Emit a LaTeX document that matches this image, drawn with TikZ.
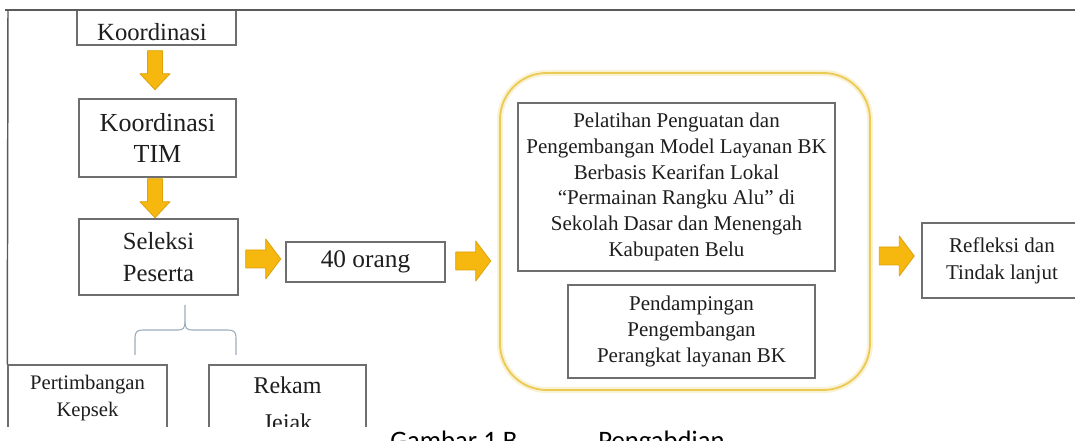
\documentclass[tikz,border=0pt]{standalone}
\usepackage{fontspec}
\setmainfont{Liberation Serif}
\newfontfamily\capfont{Carlito}
\usetikzlibrary{calc}
\definecolor{boxgray}{HTML}{6E6E6E}
\definecolor{framegray}{HTML}{5A5A5A}
\definecolor{arrowfill}{HTML}{F6B70F}
\definecolor{arrowedge}{HTML}{DDA20A}
\definecolor{goldline}{HTML}{EBCB55}
\definecolor{bracecol}{HTML}{9AADBF}
\definecolor{txt}{HTML}{1E1E1E}
\tikzset{
  box/.style={draw=boxgray, line width=1.1pt, inner sep=0pt, align=center, text=txt, fill=white},
  barrow/.style={fill=arrowfill, draw=arrowedge, line width=0.6pt, line join=round},
  pics/downarrow/.style={code={\draw[barrow] (-7.5,0) -- (7.5,0) -- (7.5,23) -- (15,23) -- (0,39) -- (-15,23) -- (-7.5,23) -- cycle;}},
  pics/rightarrow/.style={code={\draw[barrow] (0,-9) -- (20,-9) -- (20,-20) -- (35,0) -- (20,20) -- (20,9) -- (0,9) -- cycle;}},
}
\begin{document}
\begin{tikzpicture}[x=0.75pt,y=-0.75pt]
\useasboundingbox (0,0) rectangle (1075,441);
\fill[white] (0,0) rectangle (1075,441);
\clip (0,0) rectangle (1075,441);
\begin{scope}
\clip (0,0) rectangle (1075,427);
% group container
\node[draw=goldline, line width=1.4pt, rounded corners=35pt, minimum width=370*0.75pt, minimum height=317*0.75pt, inner sep=0pt,
      preaction={draw=goldline!25, line width=4.5pt}] (grp) at (685,231.5) {};
% boxes
\node[box, minimum width=159*0.75pt, minimum height=35*0.75pt] (k0) at (156.5,27.5) {};
\node[anchor=base, text=txt, font=\fontsize{18.5}{22}\selectfont] (k0t) at (152,41) {Koordinasi};
\node[box, minimum width=157*0.75pt, minimum height=78*0.75pt, font=\fontsize{19.5}{23.25}\selectfont] (k1) at (157.5,138) {Koordinasi\\TIM};
\node[box, minimum width=159*0.75pt, minimum height=76*0.75pt, font=\fontsize{18.5}{24}\selectfont] (k2) at (158.5,257) {Seleksi\\Peserta};
\node[box, minimum width=159*0.75pt, minimum height=40*0.75pt, font=\fontsize{19}{22}\selectfont] (orang) at (365.5,262) {40 orang};
\node[box, minimum width=317*0.75pt, minimum height=168*0.75pt, font=\fontsize{15.75}{19.35}\selectfont] (pel) at (676.5,187)
  {Pelatihan Penguatan dan\\Pengembangan Model Layanan BK\\Berbasis Kearifan Lokal\\“Permainan Rangku Alu” di\\Sekolah Dasar dan Menengah\\Kabupaten Belu};
\node[box, minimum width=247*0.75pt, minimum height=93*0.75pt, font=\fontsize{15.75}{19.5}\selectfont] (pend) at (691.5,331.5)
  {Pendampingan\\Pengembangan\\Perangkat layanan BK};
\node[box, minimum width=160*0.75pt, minimum height=75*0.75pt, font=\fontsize{15.75}{20.25}\selectfont] (ref) at (1002,260.5)
  {Refleksi dan\\Tindak lanjut};
\node[box, minimum width=159*0.75pt, minimum height=67*0.75pt, font=\fontsize{15.5}{20.25}\selectfont] (pk) at (87.5,398.5)
  {Pertimbangan\\Kepsek};
\node[box, minimum width=157*0.75pt, minimum height=82*0.75pt, font=\fontsize{18}{27.75}\selectfont] (rj) at (287.5,406)
  {Rekam\\Jejak};
% frame
\draw[framegray, line width=1.1pt] (5,10) -- (1075,10);
\draw[framegray, line width=1.1pt] (8,10) -- (pk.north west);
% block arrows
\pic at ($(k0.south)+(-1.5,5)$) {downarrow};
\pic at ($(k1.south)+(-2.5,1)$) {downarrow};
\pic at ($(k2.east)+(7,2)$) {rightarrow};
\pic at ($(orang.east)+(10,-1)$) {rightarrow};
\pic at ($(ref.west)+(-42,-4.5)$) {rightarrow};
% brace
\draw[bracecol, line width=0.8pt]
  (135,355) -- (135,338) .. controls (135,332) and (137,330) .. (143,330) -- (178,330)
  .. controls (183,330) and (185,328) .. (185,322) -- (185,305);
\draw[bracecol, line width=0.8pt]
  (185,322) .. controls (185,328) and (187,330) .. (192,330) -- (228,330)
  .. controls (234,330) and (236,332) .. (236,338) -- (236,355);
\end{scope}
% caption
\node[anchor=base west, inner sep=0pt, font=\capfont\fontsize{20}{24}\selectfont] (cap1) at (390,450) {Gambar 1 B};
\node[anchor=base west, inner sep=0pt, font=\capfont\fontsize{20}{24}\selectfont] (cap2) at (598,450) {Pengabdian};
\end{tikzpicture}
\end{document}
